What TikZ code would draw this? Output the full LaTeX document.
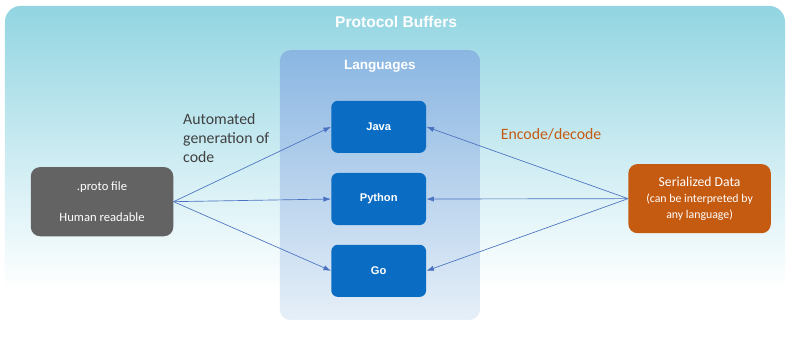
\documentclass[tikz,border=0pt]{standalone}
\usepackage{fontspec}
\setmainfont{Carlito}
\newfontfamily\arialfont{Liberation Sans}
\definecolor{tealtop}{RGB}{146, 213, 225}
\definecolor{tealmid}{RGB}{210, 238, 244}
\definecolor{langtop}{RGB}{138, 182, 226}
\definecolor{langbot}{RGB}{230, 239, 248}
\definecolor{langblue}{RGB}{10, 108, 194}
\definecolor{protogray}{RGB}{99, 99, 99}
\definecolor{serialorange}{RGB}{197, 90, 17}
\definecolor{arrowblue}{RGB}{74, 114, 192}
\definecolor{textgray}{RGB}{64, 64, 64}
\usetikzlibrary{arrows.meta, positioning, calc}
\pgfdeclareverticalshading{bgfade}{100bp}{color(0bp)=(white); color(32bp)=(white); color(50bp)=(tealmid); color(75bp)=(tealtop); color(100bp)=(tealtop)}

\begin{document}
\begin{tikzpicture}[
    langbox/.style={fill=langblue, rounded corners=5pt, minimum width=2.51cm, minimum height=1.38cm,
      text=white, font=\arialfont\fontsize{8.4}{10}\selectfont\bfseries},
    sidebox/.style={rounded corners=7pt, minimum width=3.77cm, minimum height=1.83cm, text=white, align=center},
    flow/.style={draw=arrowblue, line width=0.5pt, -{Latex[length=2mm, width=1.4mm]}}
  ]
  \useasboundingbox (0,0) rectangle (20.955,8.996);

  % Background
  \path[shading=bgfade, rounded corners=12pt] (0.13,0.13) rectangle (20.77,8.84);
  \node[text=white, font=\arialfont\fontsize{11.7}{14}\selectfont\bfseries] (title) at (10.48, 8.41) {Protocol Buffers};

  % Languages
  \node[top color=langtop, bottom color=langbot, rounded corners=8pt, minimum width=5.29cm, minimum height=7.14cm] (langs) at (10.05, 4.10) {};
  \node[text=white, font=\arialfont\fontsize{10.2}{12}\selectfont\bfseries] (langtitle) at (10.05, 7.25) {Languages};
  \node[langbox] (java) at (10.02, 5.64) {Java};
  \node[langbox] (python) at (10.02, 3.73) {Python};
  \node[langbox] (go) at (10.02, 1.83) {Go};

  % Source and data
  \node[sidebox, fill=protogray, font=\fontsize{9.5}{24}\selectfont] (proto) at (2.70, 3.66) {.proto file\\Human readable};
  \node[sidebox, fill=serialorange, font=\fontsize{8.9}{12}\selectfont] (serial) at (18.51, 3.74) {
    {\fontsize{10.3}{12}\selectfont Serialized Data}\\(can be interpreted by\\any language)};

  % Labels
  \node[anchor=west, align=left, text=textgray, inner sep=0pt, font=\fontsize{11.9}{14.6}\selectfont] (gen) at (4.84, 5.34) {Automated\\generation of\\code};
  \node[text=serialorange, font=\fontsize{11.9}{14.6}\selectfont] (encode) at (14.58, 5.45) {Encode/decode};

  % Arrows
  \foreach \lang in {java, python, go} {
    \draw[flow] (proto.east) -- (\lang.west);
    \draw[flow] (serial.west) -- (\lang.east);
  }
\end{tikzpicture}
\end{document}
